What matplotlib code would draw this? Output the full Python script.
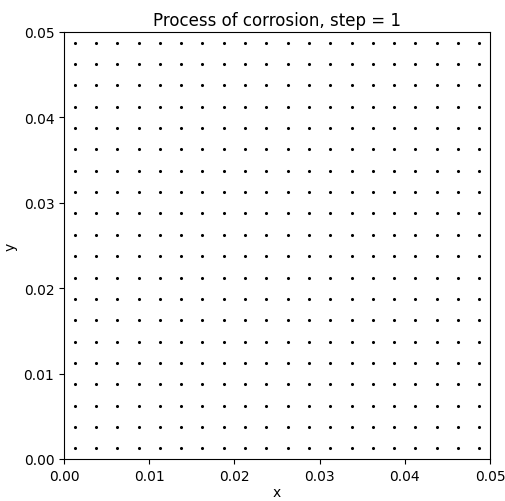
import matplotlib
matplotlib.use("Agg")
import matplotlib.pyplot as plt
import numpy as np

title = "Process of corrosion, step = 1"
x_centers = [0.00125, 0.00375, 0.00625, 0.00875, 0.01125, 0.01375, 0.01625, 0.01875,
             0.02125, 0.02375, 0.02625, 0.02875, 0.03125, 0.03375, 0.03625, 0.03875,
             0.04125, 0.04375, 0.04625, 0.04875]
y_centers = [0.00125, 0.00375, 0.00625, 0.00875, 0.01125, 0.01375, 0.01625, 0.01875,
             0.02125, 0.02375, 0.02625, 0.02875, 0.03125, 0.03375, 0.03625, 0.03875,
             0.04125, 0.04375, 0.04625, 0.04875]
x_ticks = [0.00, 0.01, 0.02, 0.03, 0.04, 0.05]
y_ticks = [0.00, 0.01, 0.02, 0.03, 0.04, 0.05]

fig = plt.figure(figsize=(5.05, 5.02), dpi=100)
ax = fig.add_axes([64/505, 42/502, 426/505, 427/502])
X, Y = np.meshgrid(x_centers, y_centers)
ax.scatter(X.ravel(), Y.ravel(), s=5, color="black", linewidths=0)
ax.set_xlim(0, 0.05)
ax.set_ylim(0, 0.05)
ax.set_xticks(x_ticks)
ax.set_yticks(y_ticks)
ax.set_xticklabels([f"{v:.2f}" for v in x_ticks])
ax.set_yticklabels([f"{v:.2f}" for v in y_ticks])
ax.set_xlabel("x", fontsize=10, labelpad=2)
ax.set_ylabel("y", fontsize=10, labelpad=4)
ax.set_title(title, fontsize=12, pad=5)
ax.tick_params(labelsize=10)
fig.savefig("out.png", dpi=100)
